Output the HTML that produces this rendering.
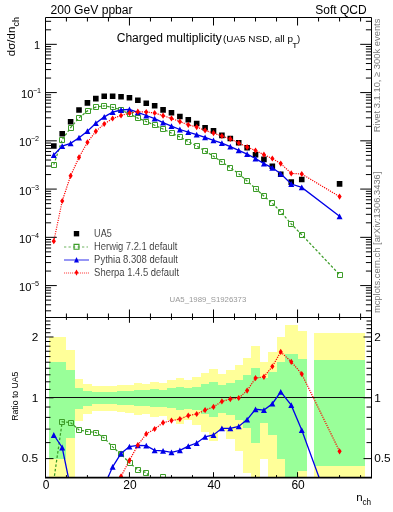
<!DOCTYPE html><html><head><meta charset="utf-8"><style>html,body{margin:0;padding:0;background:#fff;width:393px;height:512px;overflow:hidden}svg{display:block;will-change:transform}text{font-family:"Liberation Sans",sans-serif}</style></head><body>
<svg width="393" height="512" viewBox="0 0 393 512">
<defs><clipPath id="cm"><rect x="45.5" y="17.5" width="326.0" height="300.0"/></clipPath><clipPath id="cr"><rect x="45.5" y="317.5" width="326.0" height="160.0"/></clipPath></defs>
<path d="M48.89 337.00H66.41V477.50H48.89ZM66.41 350.00H74.82V477.50H66.41ZM74.82 379.20H83.22V421.43H74.82ZM83.22 384.00H91.63V414.18H83.22ZM91.63 386.00H100.03V411.44H91.63ZM100.03 386.00H108.44V411.44H100.03ZM108.44 386.00H116.84V411.44H108.44ZM116.84 385.30H125.25V412.38H116.84ZM125.25 385.00H133.65V412.79H125.25ZM133.65 383.20H142.06V415.32H133.65ZM142.06 383.90H150.46V414.32H142.06ZM150.46 382.20H158.87V416.79H150.46ZM158.87 382.70H167.27V416.05H158.87ZM167.27 380.20H175.68V419.84H167.27ZM175.68 377.90H184.08V423.58H175.68ZM184.08 379.80H192.49V420.47H184.08ZM192.49 376.90H200.89V425.29H192.49ZM200.89 373.10H209.30V432.30H200.89ZM209.30 369.10H217.70V440.73H209.30ZM217.70 373.80H226.11V430.95H217.70ZM226.11 370.00H234.51V438.73H226.11ZM234.51 365.00H242.92V450.79H234.51ZM242.92 358.00H251.32V472.68H242.92ZM251.32 346.10H259.73V477.50H251.32ZM259.73 362.10H268.13V459.00H259.73ZM268.13 352.30H276.54V477.50H268.13ZM276.54 337.10H284.94V477.50H276.54ZM284.94 324.90H297.55V477.50H284.94ZM297.55 331.20H307.22V477.50H297.55ZM313.94 333.20H364.79V477.50H313.94Z" fill="#ffff99" shape-rendering="crispEdges"/>
<path d="M48.89 362.00H66.41V459.30H48.89ZM66.41 370.30H74.82V438.08H66.41ZM74.82 388.00H83.22V408.83H74.82ZM83.22 390.50H91.63V405.76H83.22ZM91.63 391.80H100.03V404.24H91.63ZM100.03 391.60H108.44V404.47H100.03ZM108.44 391.60H116.84V404.47H108.44ZM116.84 391.30H125.25V404.82H116.84ZM125.25 391.00H133.65V405.17H125.25ZM133.65 390.00H142.06V406.36H133.65ZM142.06 390.40H150.46V405.88H142.06ZM150.46 389.40H158.87V407.09H150.46ZM158.87 389.50H167.27V406.97H158.87ZM167.27 388.30H175.68V408.46H167.27ZM175.68 386.80H184.08V410.38H175.68ZM184.08 388.10H192.49V408.71H184.08ZM192.49 386.80H200.89V410.38H192.49ZM200.89 384.30H209.30V413.76H200.89ZM209.30 382.10H217.70V416.94H209.30ZM217.70 385.00H226.11V412.79H217.70ZM226.11 383.10H234.51V415.47H226.11ZM234.51 379.90H242.92V420.31H234.51ZM242.92 375.30H251.32V428.14H242.92ZM251.32 368.10H259.73V443.04H251.32ZM259.73 378.10H268.13V423.24H259.73ZM268.13 372.00H276.54V434.51H268.13ZM276.54 362.00H284.94V459.30H276.54ZM284.94 354.20H297.55V477.50H284.94ZM297.55 358.50H307.22V470.85H297.55ZM313.94 359.90H364.79V465.99H313.94Z" fill="#99ff99" shape-rendering="crispEdges"/>
<path d="M45.5 310.82h5.6M371.5 310.82h-5.6M45.5 304.79h5.6M371.5 304.79h-5.6M45.5 300.11h5.6M371.5 300.11h-5.6M45.5 296.29h5.6M371.5 296.29h-5.6M45.5 293.06h5.6M371.5 293.06h-5.6M45.5 290.27h5.6M371.5 290.27h-5.6M45.5 287.80h5.6M371.5 287.80h-5.6M45.5 285.59h11.3M371.5 285.59h-11.3M45.5 271.07h5.6M371.5 271.07h-5.6M45.5 262.57h5.6M371.5 262.57h-5.6M45.5 256.54h5.6M371.5 256.54h-5.6M45.5 251.86h5.6M371.5 251.86h-5.6M45.5 248.04h5.6M371.5 248.04h-5.6M45.5 244.81h5.6M371.5 244.81h-5.6M45.5 242.02h5.6M371.5 242.02h-5.6M45.5 239.55h5.6M371.5 239.55h-5.6M45.5 237.34h11.3M371.5 237.34h-11.3M45.5 222.82h5.6M371.5 222.82h-5.6M45.5 214.32h5.6M371.5 214.32h-5.6M45.5 208.29h5.6M371.5 208.29h-5.6M45.5 203.61h5.6M371.5 203.61h-5.6M45.5 199.79h5.6M371.5 199.79h-5.6M45.5 196.56h5.6M371.5 196.56h-5.6M45.5 193.77h5.6M371.5 193.77h-5.6M45.5 191.30h5.6M371.5 191.30h-5.6M45.5 189.09h11.3M371.5 189.09h-11.3M45.5 174.57h5.6M371.5 174.57h-5.6M45.5 166.07h5.6M371.5 166.07h-5.6M45.5 160.04h5.6M371.5 160.04h-5.6M45.5 155.36h5.6M371.5 155.36h-5.6M45.5 151.54h5.6M371.5 151.54h-5.6M45.5 148.31h5.6M371.5 148.31h-5.6M45.5 145.52h5.6M371.5 145.52h-5.6M45.5 143.05h5.6M371.5 143.05h-5.6M45.5 140.84h11.3M371.5 140.84h-11.3M45.5 126.32h5.6M371.5 126.32h-5.6M45.5 117.82h5.6M371.5 117.82h-5.6M45.5 111.79h5.6M371.5 111.79h-5.6M45.5 107.11h5.6M371.5 107.11h-5.6M45.5 103.29h5.6M371.5 103.29h-5.6M45.5 100.06h5.6M371.5 100.06h-5.6M45.5 97.27h5.6M371.5 97.27h-5.6M45.5 94.80h5.6M371.5 94.80h-5.6M45.5 92.59h11.3M371.5 92.59h-11.3M45.5 78.07h5.6M371.5 78.07h-5.6M45.5 69.57h5.6M371.5 69.57h-5.6M45.5 63.54h5.6M371.5 63.54h-5.6M45.5 58.86h5.6M371.5 58.86h-5.6M45.5 55.04h5.6M371.5 55.04h-5.6M45.5 51.81h5.6M371.5 51.81h-5.6M45.5 49.02h5.6M371.5 49.02h-5.6M45.5 46.55h5.6M371.5 46.55h-5.6M45.5 44.34h11.3M371.5 44.34h-11.3M45.5 29.82h5.6M371.5 29.82h-5.6M45.5 21.32h5.6M371.5 21.32h-5.6M66.41 17.5v4M66.41 317.5v-4M66.41 317.5v2.4M66.41 477.5v-2.4M87.42 17.5v4M87.42 317.5v-4M87.42 317.5v2.4M87.42 477.5v-2.4M108.44 17.5v4M108.44 317.5v-4M108.44 317.5v2.4M108.44 477.5v-2.4M129.45 17.5v8M129.45 317.5v-8M129.45 317.5v5.3M129.45 477.5v-5.3M150.46 17.5v4M150.46 317.5v-4M150.46 317.5v2.4M150.46 477.5v-2.4M171.47 17.5v4M171.47 317.5v-4M171.47 317.5v2.4M171.47 477.5v-2.4M192.49 17.5v4M192.49 317.5v-4M192.49 317.5v2.4M192.49 477.5v-2.4M213.50 17.5v8M213.50 317.5v-8M213.50 317.5v5.3M213.50 477.5v-5.3M234.51 17.5v4M234.51 317.5v-4M234.51 317.5v2.4M234.51 477.5v-2.4M255.52 17.5v4M255.52 317.5v-4M255.52 317.5v2.4M255.52 477.5v-2.4M276.54 17.5v4M276.54 317.5v-4M276.54 317.5v2.4M276.54 477.5v-2.4M297.55 17.5v8M297.55 317.5v-8M297.55 317.5v5.3M297.55 477.5v-5.3M318.56 17.5v4M318.56 317.5v-4M318.56 317.5v2.4M318.56 477.5v-2.4M339.57 17.5v4M339.57 317.5v-4M339.57 317.5v2.4M339.57 477.5v-2.4M360.59 17.5v4M360.59 317.5v-4M360.59 317.5v2.4M360.59 477.5v-2.4M45.5 458.61h8M371.5 458.61h-8M45.5 442.61h5M371.5 442.61h-5M45.5 429.09h5M371.5 429.09h-5M45.5 417.38h5M371.5 417.38h-5M45.5 407.04h5M371.5 407.04h-5M45.5 397.80h8M371.5 397.80h-8M45.5 389.44h5M371.5 389.44h-5M45.5 381.81h5M371.5 381.81h-5M45.5 374.78h5M371.5 374.78h-5M45.5 368.28h5M371.5 368.28h-5M45.5 362.23h5M371.5 362.23h-5M45.5 356.57h5M371.5 356.57h-5M45.5 351.25h5M371.5 351.25h-5M45.5 346.23h5M371.5 346.23h-5M45.5 341.49h5M371.5 341.49h-5M45.5 336.99h8M371.5 336.99h-8M45.5 332.71h5M371.5 332.71h-5M45.5 328.63h5M371.5 328.63h-5M45.5 324.73h5M371.5 324.73h-5M45.5 321.00h5M371.5 321.00h-5" stroke="#000" stroke-width="1" fill="none"/>
<path d="M45.5 397.5H371.5" stroke="#111" stroke-width="1" fill="none"/>
<g clip-path="url(#cm)">
<path d="M51.01 143.20h5.6v5.6h-5.6ZM59.41 131.00h5.6v5.6h-5.6ZM67.81 119.00h5.6v5.6h-5.6ZM76.22 107.20h5.6v5.6h-5.6ZM84.62 100.10h5.6v5.6h-5.6ZM93.03 95.80h5.6v5.6h-5.6ZM101.43 93.50h5.6v5.6h-5.6ZM109.84 93.50h5.6v5.6h-5.6ZM118.24 94.00h5.6v5.6h-5.6ZM126.65 94.90h5.6v5.6h-5.6ZM135.05 97.50h5.6v5.6h-5.6ZM143.46 100.40h5.6v5.6h-5.6ZM151.86 102.90h5.6v5.6h-5.6ZM160.27 107.10h5.6v5.6h-5.6ZM168.67 109.90h5.6v5.6h-5.6ZM177.08 113.70h5.6v5.6h-5.6ZM185.48 116.90h5.6v5.6h-5.6ZM193.89 120.70h5.6v5.6h-5.6ZM202.29 124.90h5.6v5.6h-5.6ZM210.70 128.10h5.6v5.6h-5.6ZM219.10 132.60h5.6v5.6h-5.6ZM227.51 135.70h5.6v5.6h-5.6ZM235.91 139.90h5.6v5.6h-5.6ZM244.32 144.90h5.6v5.6h-5.6ZM252.72 151.90h5.6v5.6h-5.6ZM261.13 156.60h5.6v5.6h-5.6ZM269.53 163.40h5.6v5.6h-5.6ZM277.94 171.40h5.6v5.6h-5.6ZM288.45 179.30h5.6v5.6h-5.6ZM298.95 176.70h5.6v5.6h-5.6ZM336.77 181.10h5.6v5.6h-5.6Z" fill="#000"/>
<path d="M53.80 164.60L62.21 139.60L70.61 127.70L79.02 117.90L87.42 110.90L95.83 107.10L104.23 105.80L112.64 107.30L121.04 109.80L129.45 114.00L137.85 118.10L146.26 121.50L154.66 125.30L163.07 129.00L171.47 133.10L179.88 136.90L188.28 141.70L196.69 146.00L205.09 151.00L213.50 156.30L221.91 161.80L230.31 167.80L238.72 173.80L247.12 181.00L255.52 188.60L263.93 196.10L272.33 203.20L280.74 211.80L291.25 224.00L301.75 234.70L339.57 274.70" stroke="#3c9c28" stroke-width="1.25" stroke-dasharray="2.6 1.9" fill="none"/>
<path d="M51.5 162.5h5v5h-5ZM59.5 137.5h5v5h-5ZM68.5 125.5h5v5h-5ZM76.5 115.5h5v5h-5ZM85.5 108.5h5v5h-5ZM93.5 104.5h5v5h-5ZM101.5 103.5h5v5h-5ZM110.5 104.5h5v5h-5ZM118.5 107.5h5v5h-5ZM127.5 111.5h5v5h-5ZM135.5 115.5h5v5h-5ZM143.5 119.5h5v5h-5ZM152.5 122.5h5v5h-5ZM160.5 126.5h5v5h-5ZM169.5 130.5h5v5h-5ZM177.5 134.5h5v5h-5ZM185.5 139.5h5v5h-5ZM194.5 143.5h5v5h-5ZM202.5 148.5h5v5h-5ZM211.5 153.5h5v5h-5ZM219.5 159.5h5v5h-5ZM227.5 165.5h5v5h-5ZM236.5 171.5h5v5h-5ZM244.5 178.5h5v5h-5ZM253.5 186.5h5v5h-5ZM261.5 193.5h5v5h-5ZM269.5 200.5h5v5h-5ZM278.5 209.5h5v5h-5ZM288.5 221.5h5v5h-5ZM299.5 232.5h5v5h-5ZM337.5 272.5h5v5h-5Z" stroke="#3c9c28" stroke-width="1.0" fill="#fff" fill-opacity="0"/>
<path d="M53.80 155.00L62.21 146.10L70.61 143.40L79.02 137.70L87.42 131.20L95.83 123.20L104.23 116.90L112.64 112.20L121.04 110.00L129.45 109.40L137.85 112.40L146.26 115.50L154.66 118.70L163.07 122.70L171.47 126.10L179.88 129.50L188.28 132.10L196.69 134.60L205.09 137.40L213.50 140.40L221.91 143.20L230.31 146.60L238.72 150.40L247.12 154.20L255.52 158.50L263.93 163.60L272.33 167.80L280.74 173.80L291.25 184.00L301.75 187.40L339.57 216.30" stroke="#0000e8" stroke-width="1.3" fill="none"/>
<path d="M53.80 152.10L56.80 157.90H50.80ZM62.21 143.20L65.21 149.00H59.21ZM70.61 140.50L73.61 146.30H67.61ZM79.02 134.80L82.02 140.60H76.02ZM87.42 128.30L90.42 134.10H84.42ZM95.83 120.30L98.83 126.10H92.83ZM104.23 114.00L107.23 119.80H101.23ZM112.64 109.30L115.64 115.10H109.64ZM121.04 107.10L124.04 112.90H118.04ZM129.45 106.50L132.45 112.30H126.45ZM137.85 109.50L140.85 115.30H134.85ZM146.26 112.60L149.26 118.40H143.26ZM154.66 115.80L157.66 121.60H151.66ZM163.07 119.80L166.07 125.60H160.07ZM171.47 123.20L174.47 129.00H168.47ZM179.88 126.60L182.88 132.40H176.88ZM188.28 129.20L191.28 135.00H185.28ZM196.69 131.70L199.69 137.50H193.69ZM205.09 134.50L208.09 140.30H202.09ZM213.50 137.50L216.50 143.30H210.50ZM221.91 140.30L224.91 146.10H218.91ZM230.31 143.70L233.31 149.50H227.31ZM238.72 147.50L241.72 153.30H235.72ZM247.12 151.30L250.12 157.10H244.12ZM255.52 155.60L258.52 161.40H252.52ZM263.93 160.70L266.93 166.50H260.93ZM272.33 164.90L275.33 170.70H269.33ZM280.74 170.90L283.74 176.70H277.74ZM291.25 181.10L294.25 186.90H288.25ZM301.75 184.50L304.75 190.30H298.75ZM339.57 213.40L342.57 219.20H336.57Z" fill="#0000e8"/>
<path d="M53.80 241.20L62.21 201.00L70.61 175.80L79.02 157.30L87.42 142.30L95.83 131.30L104.23 124.00L112.64 118.50L121.04 115.50L129.45 113.20L137.85 111.70L146.26 112.00L154.66 113.00L163.07 115.70L171.47 118.40L179.88 121.60L188.28 124.80L196.69 127.10L205.09 130.40L213.50 133.10L221.91 136.00L230.31 138.90L238.72 143.00L247.12 147.10L255.52 150.50L263.93 154.70L272.33 158.50L280.74 163.60L291.25 173.40L301.75 174.00L339.57 196.60" stroke="#ff0000" stroke-width="1.2" stroke-dasharray="1.2 1.1" fill="none"/>
<path d="M53.80 238.10L55.91 241.20L53.80 244.30L51.70 241.20ZM62.21 197.90L64.31 201.00L62.21 204.10L60.11 201.00ZM70.61 172.70L72.71 175.80L70.61 178.90L68.52 175.80ZM79.02 154.20L81.12 157.30L79.02 160.40L76.92 157.30ZM87.42 139.20L89.52 142.30L87.42 145.40L85.33 142.30ZM95.83 128.20L97.93 131.30L95.83 134.40L93.73 131.30ZM104.23 120.90L106.33 124.00L104.23 127.10L102.13 124.00ZM112.64 115.40L114.74 118.50L112.64 121.60L110.54 118.50ZM121.04 112.40L123.14 115.50L121.04 118.60L118.94 115.50ZM129.45 110.10L131.55 113.20L129.45 116.30L127.35 113.20ZM137.85 108.60L139.95 111.70L137.85 114.80L135.75 111.70ZM146.26 108.90L148.36 112.00L146.26 115.10L144.16 112.00ZM154.66 109.90L156.76 113.00L154.66 116.10L152.56 113.00ZM163.07 112.60L165.17 115.70L163.07 118.80L160.97 115.70ZM171.47 115.30L173.57 118.40L171.47 121.50L169.38 118.40ZM179.88 118.50L181.98 121.60L179.88 124.70L177.78 121.60ZM188.28 121.70L190.38 124.80L188.28 127.90L186.19 124.80ZM196.69 124.00L198.79 127.10L196.69 130.20L194.59 127.10ZM205.09 127.30L207.19 130.40L205.09 133.50L203.00 130.40ZM213.50 130.00L215.60 133.10L213.50 136.20L211.40 133.10ZM221.91 132.90L224.00 136.00L221.91 139.10L219.81 136.00ZM230.31 135.80L232.41 138.90L230.31 142.00L228.21 138.90ZM238.72 139.90L240.81 143.00L238.72 146.10L236.62 143.00ZM247.12 144.00L249.22 147.10L247.12 150.20L245.02 147.10ZM255.52 147.40L257.62 150.50L255.52 153.60L253.42 150.50ZM263.93 151.60L266.03 154.70L263.93 157.80L261.83 154.70ZM272.33 155.40L274.44 158.50L272.33 161.60L270.23 158.50ZM280.74 160.50L282.84 163.60L280.74 166.70L278.64 163.60ZM291.25 170.30L293.35 173.40L291.25 176.50L289.15 173.40ZM301.75 170.90L303.85 174.00L301.75 177.10L299.65 174.00ZM339.57 193.50L341.67 196.60L339.57 199.70L337.47 196.60Z" fill="#ff0000"/>
</g>
<g clip-path="url(#cr)">
<path d="M53.80 480.30L62.21 421.80L70.61 422.70L79.02 429.90L87.42 431.50L95.83 432.50L104.23 438.00L112.64 446.90L121.04 454.30L129.45 462.70L137.85 469.80L146.26 472.70L154.66 482.00L163.07 476.60L171.47 483.28L179.88 483.28L188.28 489.98L196.69 492.08L205.09 495.43L213.50 504.23L221.91 508.42L230.31 520.57L238.72 528.11L247.12 537.33L255.52 539.84L263.93 551.57L272.33 552.83L280.74 555.34L291.25 573.36L301.75 629.09L339.57 778.25" stroke="#3c9c28" stroke-width="1.25" stroke-dasharray="2.6 1.9" fill="none"/>
<path d="M51.5 477.5h5v5h-5ZM59.5 419.5h5v5h-5ZM68.5 420.5h5v5h-5ZM76.5 427.5h5v5h-5ZM85.5 429.5h5v5h-5ZM93.5 430.5h5v5h-5ZM101.5 435.5h5v5h-5ZM110.5 444.5h5v5h-5ZM118.5 451.5h5v5h-5ZM127.5 460.5h5v5h-5ZM135.5 467.5h5v5h-5ZM143.5 470.5h5v5h-5ZM152.5 479.5h5v5h-5ZM160.5 474.5h5v5h-5ZM169.5 480.5h5v5h-5ZM177.5 480.5h5v5h-5ZM185.5 487.5h5v5h-5ZM194.5 489.5h5v5h-5ZM202.5 493.5h5v5h-5ZM211.5 501.5h5v5h-5ZM219.5 506.5h5v5h-5ZM227.5 518.5h5v5h-5ZM236.5 525.5h5v5h-5ZM244.5 534.5h5v5h-5ZM253.5 537.5h5v5h-5ZM261.5 549.5h5v5h-5ZM269.5 550.5h5v5h-5ZM278.5 552.5h5v5h-5ZM288.5 570.5h5v5h-5ZM299.5 626.5h5v5h-5ZM337.5 775.5h5v5h-5Z" stroke="#3c9c28" stroke-width="1.0" fill="#fff" fill-opacity="0"/>
<path d="M53.80 435.00L62.21 447.50L70.61 488.30L79.02 513.90L87.42 516.40L95.83 500.90L104.23 486.00L112.64 466.80L121.04 453.50L129.45 446.60L137.85 445.40L146.26 445.60L154.66 450.40L163.07 450.80L171.47 452.30L179.88 450.30L188.28 446.10L196.69 443.00L205.09 436.80L213.50 435.00L221.91 428.30L230.31 428.30L238.72 426.40L247.12 419.60L255.52 409.30L263.93 410.10L272.33 403.70L280.74 391.90L291.25 405.20L301.75 430.10L339.57 533.60" stroke="#0000e8" stroke-width="1.3" fill="none"/>
<path d="M53.80 432.10L56.80 437.90H50.80ZM62.21 444.60L65.21 450.40H59.21ZM70.61 485.40L73.61 491.20H67.61ZM79.02 511.00L82.02 516.80H76.02ZM87.42 513.50L90.42 519.30H84.42ZM95.83 498.00L98.83 503.80H92.83ZM104.23 483.10L107.23 488.90H101.23ZM112.64 463.90L115.64 469.70H109.64ZM121.04 450.60L124.04 456.40H118.04ZM129.45 443.70L132.45 449.50H126.45ZM137.85 442.50L140.85 448.30H134.85ZM146.26 442.70L149.26 448.50H143.26ZM154.66 447.50L157.66 453.30H151.66ZM163.07 447.90L166.07 453.70H160.07ZM171.47 449.40L174.47 455.20H168.47ZM179.88 447.40L182.88 453.20H176.88ZM188.28 443.20L191.28 449.00H185.28ZM196.69 440.10L199.69 445.90H193.69ZM205.09 433.90L208.09 439.70H202.09ZM213.50 432.10L216.50 437.90H210.50ZM221.91 425.40L224.91 431.20H218.91ZM230.31 425.40L233.31 431.20H227.31ZM238.72 423.50L241.72 429.30H235.72ZM247.12 416.70L250.12 422.50H244.12ZM255.52 406.40L258.52 412.20H252.52ZM263.93 407.20L266.93 413.00H260.93ZM272.33 400.80L275.33 406.60H269.33ZM280.74 389.00L283.74 394.80H277.74ZM291.25 402.30L294.25 408.10H288.25ZM301.75 427.20L304.75 433.00H298.75ZM339.57 530.70L342.57 536.50H336.57Z" fill="#0000e8"/>
<path d="M53.80 796.69L62.21 679.37L70.61 624.06L79.02 595.99L87.42 562.89L95.83 534.81L104.23 513.90L112.64 490.80L121.04 476.40L129.45 460.40L137.85 445.10L146.26 433.90L154.66 429.00L163.07 422.70L171.47 420.60L179.88 419.10L188.28 415.60L196.69 414.00L205.09 410.10L213.50 406.90L221.91 401.40L230.31 399.10L238.72 398.00L247.12 390.60L255.52 378.10L263.93 376.80L272.33 366.50L280.74 351.90L291.25 361.80L301.75 374.00L339.57 451.30" stroke="#ff0000" stroke-width="1.2" stroke-dasharray="1.2 1.1" fill="none"/>
<path d="M53.80 793.59L55.91 796.69L53.80 799.79L51.70 796.69ZM62.21 676.27L64.31 679.37L62.21 682.47L60.11 679.37ZM70.61 620.96L72.71 624.06L70.61 627.16L68.52 624.06ZM79.02 592.89L81.12 595.99L79.02 599.09L76.92 595.99ZM87.42 559.79L89.52 562.89L87.42 565.99L85.33 562.89ZM95.83 531.71L97.93 534.81L95.83 537.91L93.73 534.81ZM104.23 510.80L106.33 513.90L104.23 517.00L102.13 513.90ZM112.64 487.70L114.74 490.80L112.64 493.90L110.54 490.80ZM121.04 473.30L123.14 476.40L121.04 479.50L118.94 476.40ZM129.45 457.30L131.55 460.40L129.45 463.50L127.35 460.40ZM137.85 442.00L139.95 445.10L137.85 448.20L135.75 445.10ZM146.26 430.80L148.36 433.90L146.26 437.00L144.16 433.90ZM154.66 425.90L156.76 429.00L154.66 432.10L152.56 429.00ZM163.07 419.60L165.17 422.70L163.07 425.80L160.97 422.70ZM171.47 417.50L173.57 420.60L171.47 423.70L169.38 420.60ZM179.88 416.00L181.98 419.10L179.88 422.20L177.78 419.10ZM188.28 412.50L190.38 415.60L188.28 418.70L186.19 415.60ZM196.69 410.90L198.79 414.00L196.69 417.10L194.59 414.00ZM205.09 407.00L207.19 410.10L205.09 413.20L203.00 410.10ZM213.50 403.80L215.60 406.90L213.50 410.00L211.40 406.90ZM221.91 398.30L224.00 401.40L221.91 404.50L219.81 401.40ZM230.31 396.00L232.41 399.10L230.31 402.20L228.21 399.10ZM238.72 394.90L240.81 398.00L238.72 401.10L236.62 398.00ZM247.12 387.50L249.22 390.60L247.12 393.70L245.02 390.60ZM255.52 375.00L257.62 378.10L255.52 381.20L253.42 378.10ZM263.93 373.70L266.03 376.80L263.93 379.90L261.83 376.80ZM272.33 363.40L274.44 366.50L272.33 369.60L270.23 366.50ZM280.74 348.80L282.84 351.90L280.74 355.00L278.64 351.90ZM291.25 358.70L293.35 361.80L291.25 364.90L289.15 361.80ZM301.75 370.90L303.85 374.00L301.75 377.10L299.65 374.00ZM339.57 448.20L341.67 451.30L339.57 454.40L337.47 451.30Z" fill="#ff0000"/>
</g>
<path d="M45.5 477.5V17.5H371.5V477.5M45.5 317.5H371.5" stroke="#000" stroke-width="1" fill="none"/>
<path d="M45.0 477.6H372.0" stroke="#000" stroke-width="1.6" fill="none"/>
<g font-size="11" fill="#000">
<text x="50.6" y="13.7" font-size="12" textLength="82.0" lengthAdjust="spacingAndGlyphs">200 GeV ppbar</text>
<text x="366.6" y="13.6" font-size="12" text-anchor="end">Soft QCD</text>
<text x="40" y="49" text-anchor="end">1</text>
<text x="33.4" y="98.1" font-size="11.2" text-anchor="end">10</text><text x="32.9" y="93.1" font-size="7.2">−1</text>
<text x="31.4" y="146.3" font-size="11.2" text-anchor="end">10</text><text x="30.9" y="141.3" font-size="7.2">−2</text>
<text x="31.4" y="194.6" font-size="11.2" text-anchor="end">10</text><text x="30.9" y="189.6" font-size="7.2">−3</text>
<text x="31.4" y="242.8" font-size="11.2" text-anchor="end">10</text><text x="30.9" y="237.8" font-size="7.2">−4</text>
<text x="31.4" y="291.1" font-size="11.2" text-anchor="end">10</text><text x="30.9" y="286.1" font-size="7.2">−5</text>
<text x="46.0" y="489" font-size="12" text-anchor="middle">0</text>
<text x="130.0" y="489" font-size="12" text-anchor="middle">20</text>
<text x="214.1" y="489" font-size="12" text-anchor="middle">40</text>
<text x="298.1" y="489" font-size="12" text-anchor="middle">60</text>
<text x="116.7" y="42.1" font-size="12" textLength="105.2" lengthAdjust="spacingAndGlyphs">Charged multiplicity</text>
<text x="223" y="42.2" font-size="9.6" textLength="70" lengthAdjust="spacingAndGlyphs">(UA5 NSD, all p</text><text x="292.7" y="47.5" font-size="6.8" stroke="#000" stroke-width="0.15">T</text><text x="297" y="42.2" font-size="9.6">)</text>
<text transform="translate(14.7 56.2) rotate(-90)" font-size="11.5">dσ/dn<tspan font-size="9" dy="4" dx="0.3">ch</tspan></text>
<text x="356.2" y="500.6" font-size="11.5">n</text><text x="362.4" y="504.8" font-size="8.2">ch</text>
<text transform="translate(17.9 420.8) rotate(-90)" font-size="8.7">Ratio to UA5</text>

</g>
<g font-size="11" fill="#000">
<text x="38.2" y="340.8" font-size="11.8" text-anchor="end">2</text><text x="374.2" y="340.8" font-size="11.8">2</text>
<text x="38.2" y="401.6" font-size="11.8" text-anchor="end">1</text><text x="374.2" y="401.6" font-size="11.8">1</text>
<text x="38.2" y="462.4" font-size="11.8" text-anchor="end">0.5</text><text x="374.2" y="462.4" font-size="11.8">0.5</text>
</g>
<g font-size="9.5" fill="#000">
<path d="M73.80 231.00h5.4v5.4h-5.4Z" fill="#000"/>
<path d="M64 247H88" stroke="#3c9c28" stroke-width="1.1" stroke-dasharray="2.3 2.2" opacity="0.75"/><path d="M74.05 244.35h4.9v4.9h-4.9Z" stroke="#3c9c28" stroke-width="1.2" fill="none"/>
<path d="M64 260H89" stroke="#0000e8" stroke-width="1.1" opacity="0.75"/><path d="M76.50 257.05L79.00 262.55H74.00Z" fill="#0000e8"/>
<path d="M64 273H89" stroke="#ff0000" stroke-width="1.1" stroke-dasharray="1.1 0.9" opacity="0.75"/><path d="M76.50 269.50L78.25 272.60L76.50 275.70L74.75 272.60Z" fill="#ff0000"/>
<text x="94.1" y="237.2" font-size="10" stroke="#fff" stroke-width="0.18" textLength="17.6" lengthAdjust="spacingAndGlyphs">UA5</text>
<text x="94.1" y="250.3" font-size="10" stroke="#fff" stroke-width="0.18" textLength="83.3" lengthAdjust="spacingAndGlyphs">Herwig 7.2.1 default</text>
<text x="94.1" y="263.3" font-size="10" stroke="#fff" stroke-width="0.18" textLength="83.8" lengthAdjust="spacingAndGlyphs">Pythia 8.308 default</text>
<text x="94.1" y="276.1" font-size="10" stroke="#fff" stroke-width="0.18" textLength="85.0" lengthAdjust="spacingAndGlyphs">Sherpa 1.4.5 default</text>
</g>
<text x="169.5" y="302.4" font-size="7.8" fill="#999">UA5_1989_S1926373</text>
<text transform="translate(380.3 132.2) rotate(-90)" font-size="9.5" fill="#777" textLength="113.6" lengthAdjust="spacingAndGlyphs">Rivet 3.1.10, ≥ 300k events</text>
<text transform="translate(380.3 313.1) rotate(-90)" font-size="9.5" fill="#777" textLength="141.5" lengthAdjust="spacingAndGlyphs">mcplots.cern.ch [arXiv:1306.3436]</text>
</svg></body></html>
